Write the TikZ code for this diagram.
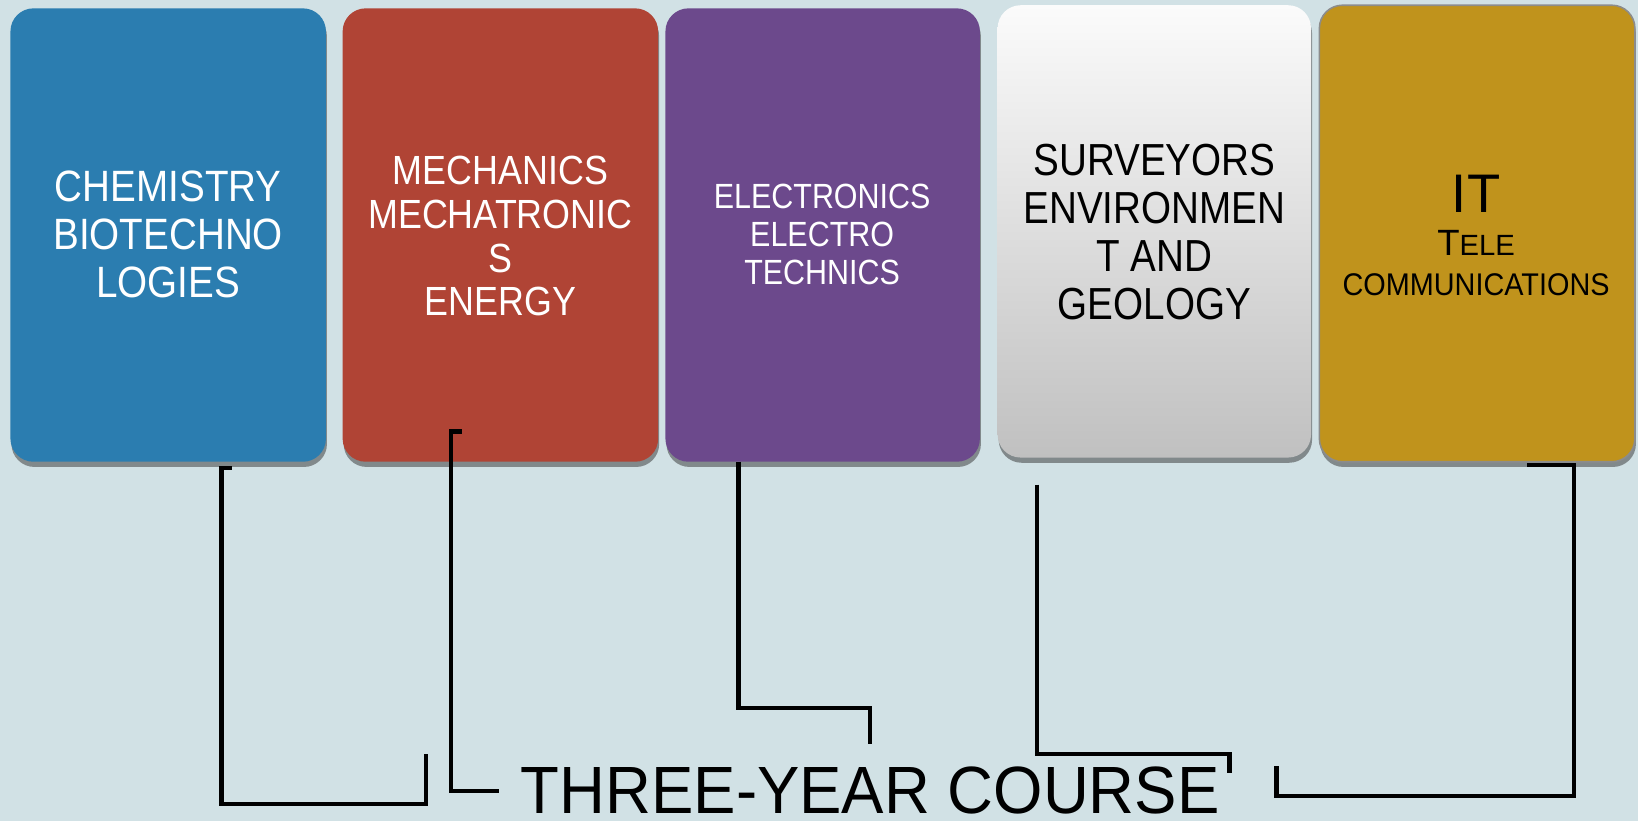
\documentclass[tikz,border=0pt]{standalone}
\usepackage{fontspec}
\setmainfont{Liberation Sans}
\usetikzlibrary{shadows}
\definecolor{bgc}{RGB}{209,225,229}
\definecolor{cblue}{RGB}{43,125,176}
\definecolor{cred}{RGB}{176,68,53}
\definecolor{cpurple}{RGB}{108,73,140}
\definecolor{cgold}{RGB}{192,147,28}
\definecolor{cwtop}{RGB}{251,251,251}
\definecolor{cwbot}{RGB}{192,192,192}
\definecolor{cgoldedge}{RGB}{140,140,140}
% #1 x-scale, #2 font size, #3 line pitch, #4 lines
\newcommand\sqtext[4]{\scalebox{#1}[1]{\fontsize{#2}{#3}\selectfont\begin{tabular}{@{}c@{}}#4\end{tabular}}}
\begin{document}
\begin{tikzpicture}[x=1pt,y=-1pt,
  card/.style={rectangle, rounded corners=22pt, inner sep=0pt,
    minimum width=#1, minimum height=434pt,
    drop shadow={shadow xshift=1pt, shadow yshift=-5pt, opacity=0.5, fill=black!80}},
  lbl/.style={inner sep=0pt, align=center},
  conn/.style={draw=black, line width=4pt, miter limit=10}]
\fill[bgc] (0,0) rectangle (1568,786);
\useasboundingbox (0,0) rectangle (1568,786);

% cards
\node[card=302pt, fill=cblue] (b1) at (161,225) {};
\node[card=302pt, fill=cred] (b2) at (479,225) {};
\node[card=301pt, fill=cpurple] (b3) at (787.5,225) {};
\node[card=300pt, top color=cwtop, bottom color=cwbot, minimum height=433pt] (b4) at (1105,221.5) {};
\node[card=302pt, fill=cgold, draw=cgoldedge, line width=1.5pt, minimum height=437pt] (b5) at (1414,223.5) {};

% texts
\setlength{\tabcolsep}{0pt}
\node[lbl, text=white] (t1) at (161,230) {\sqtext{0.88}{42}{46}{CHEMISTRY\\BIOTECHNO\\LOGIES}};
\node[lbl, text=white] (t2) at (479,231) {\sqtext{0.88}{39}{42}{MECHANICS\\MECHATRONIC\\S\\ENERGY}};
\node[lbl, text=white] (t3) at (787,229) {\sqtext{0.87}{33.5}{36.5}{ELECTRONICS\\ELECTRO\\TECHNICS}};
\node[lbl, text=black] (t4) at (1105,228) {\sqtext{0.86}{43}{46}{SURVEYORS\\ENVIRONMEN\\T AND\\GEOLOGY}};
\node[lbl, text=black, anchor=base] (t5a) at (1413,203) {\fontsize{52}{52}\selectfont IT};
\node[lbl, text=black, anchor=base] (t5b) at (1413,245) {\fontsize{35}{35}\selectfont T\fontsize{28}{28}\selectfont ELE};
\node[lbl, text=black, anchor=base] (t5c) at (1413,283) {\scalebox{0.92}[1]{\fontsize{30}{30}\selectfont COMMUNICATIONS}};

\node[lbl, text=black, anchor=base] (course) at (833,779) {\scalebox{0.95}[1]{\fontsize{64}{64}\selectfont THREE-YEAR COURSE}};

% connectors
\coordinate (c1a) at (222,448);
\coordinate (c1b) at (408,722);
\coordinate (c2a) at (442,413);
\coordinate (c2b) at (478,757);
\coordinate (c3a) at (707,442);
\coordinate (c3b) at (833,712);
\coordinate (c4a) at (993,464);
\coordinate (c4b) at (1177,740);
\coordinate (c5a) at (1462,445);
\coordinate (c5b) at (1222,733);

\draw[conn] (c1a) -- (212,448) -- (212,770) -- (408,770) -- (c1b);
\draw[conn] (c2a) -- (432,413) -- (432,757) -- (c2b);
\draw[conn] (c3a) -- (707,678) -- (833,678) -- (c3b);
\draw[conn] (c4a) -- (993,722) -- (1177,722) -- (c4b);
\draw[conn] (c5a) -- (1507,445) -- (1507,762) -- (1222,762) -- (c5b);
\end{tikzpicture}
\end{document}
